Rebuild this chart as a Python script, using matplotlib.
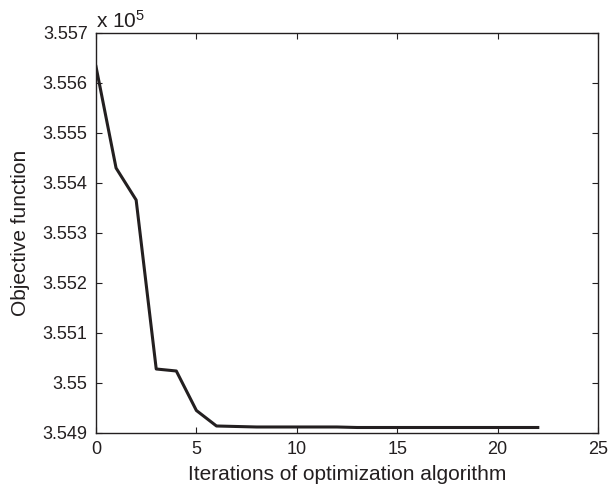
import matplotlib
matplotlib.use("Agg")
import matplotlib.pyplot as plt
from matplotlib.ticker import FuncFormatter

plt.rcParams['font.family'] = ['Liberation Sans', 'DejaVu Sans']
plt.rcParams['mathtext.fontset'] = 'custom'
plt.rcParams['mathtext.rm'] = 'Liberation Sans'
plt.rcParams['mathtext.it'] = 'Liberation Sans:italic'
plt.rcParams['mathtext.bf'] = 'Liberation Sans:bold'

iterations = list(range(0, 23))
objective = [355633, 355430, 355366, 355028, 355024, 354945, 354914, 354913,
             354912, 354912, 354912, 354912, 354912, 354911, 354911, 354911,
             354911, 354911, 354911, 354911, 354911, 354911, 354911]
x_ticks = [0, 5, 10, 15, 20, 25]
y_ticks = [354900, 355000, 355100, 355200, 355300, 355400, 355500, 355600, 355700]

fig = plt.figure(figsize=(6.09, 4.94), dpi=100)
ax = fig.add_axes([0.1576, 0.1235, 0.8244, 0.8097])
ax.plot(iterations, objective, color='#231f20', linewidth=2.2)
ax.set_xlim(0, 25)
ax.set_ylim(354900, 355700)
ax.set_xticks(x_ticks)
ax.set_yticks(y_ticks)
ax.yaxis.set_major_formatter(FuncFormatter(lambda v, p: '%g' % round(v / 1e5, 4)))
ax.tick_params(direction='in', top=True, right=True, length=4, width=0.8,
               labelsize=13, colors='#231f20')
ax.tick_params(axis='x', pad=6)
ax.tick_params(axis='y', pad=6)
for s in ax.spines.values():
    s.set_linewidth(1.0)
    s.set_color('#231f20')
ax.set_xlabel('Iterations of optimization algorithm', fontsize=15, color='#231f20', labelpad=5)
ax.set_ylabel('Objective function', fontsize=15, color='#231f20', labelpad=9)
ax.text(0.0, 0.0125 + 1.0, r'x 10$\mathregular{^5}$', transform=ax.transAxes, fontsize=15,
        color='#231f20', ha='left', va='baseline')
fig.savefig('out.png', dpi=100)
